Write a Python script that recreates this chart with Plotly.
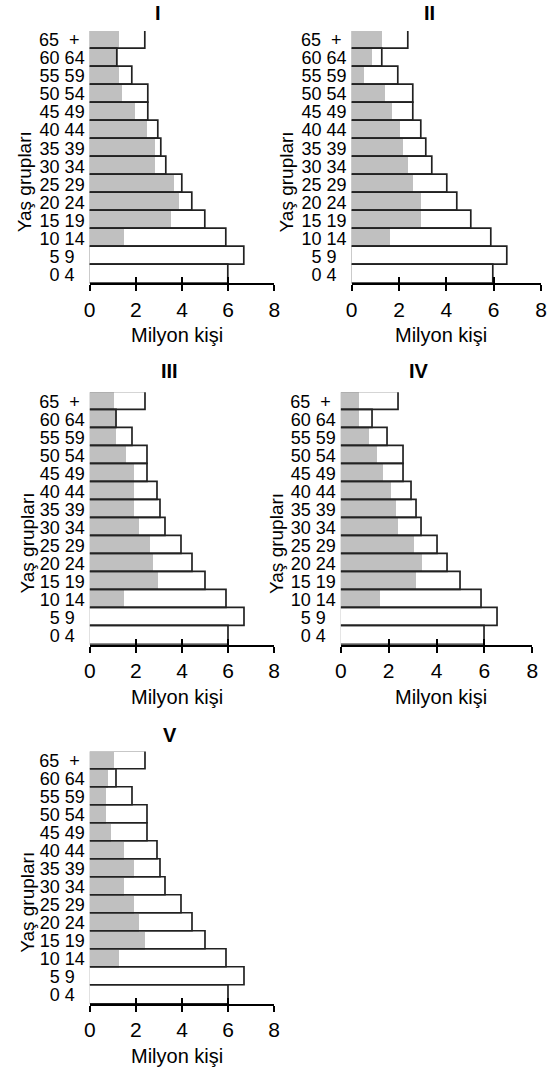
import plotly.graph_objects as go

W, H = 553, 1074

# Age group tick labels, top to bottom
age_labels = ["65\u00a0\u00a0+\u00a0", "60 64", "55 59", "50 54", "45 49", "40 44", "35 39",
              "30 34", "25 29", "20 24", "15 19", "10 14", "5 9\u00a0\u00a0", "0 4\u00a0\u00a0"]

totals_I = [2.44, 1.20, 1.87, 2.54, 2.54, 2.99, 3.11, 3.34, 4.01, 4.46, 5.04, 5.93, 6.72, 6.04]
gray_I = [1.27, 1.20, 1.27, 1.38, 1.94, 2.49, 2.83, 2.83, 3.63, 3.85, 3.51, 1.48, 0, 0]
totals_II = [2.41, 1.32, 1.97, 2.63, 2.63, 2.96, 3.18, 3.41, 4.05, 4.49, 5.05, 5.92, 6.58, 6.00]
gray_II = [1.25, 0.85, 0.52, 1.38, 1.71, 2.04, 2.16, 2.37, 2.58, 2.90, 2.90, 1.59, 0, 0]
totals_III = [2.42, 1.17, 1.85, 2.52, 2.52, 2.97, 3.10, 3.32, 4.00, 4.46, 5.04, 5.93, 6.72, 6.04]
gray_III = [1.03, 1.17, 1.12, 1.57, 1.92, 1.92, 1.92, 2.14, 2.60, 2.73, 2.94, 1.46, 0, 0]
totals_IV = [2.41, 1.32, 1.98, 2.62, 2.62, 2.95, 3.18, 3.40, 4.05, 4.49, 5.03, 5.91, 6.58, 6.00]
gray_IV = [0.76, 0.76, 1.17, 1.50, 1.75, 2.07, 2.28, 2.40, 3.06, 3.38, 3.14, 1.62, 0, 0]
totals_V = [2.42, 1.17, 1.85, 2.52, 2.52, 2.97, 3.10, 3.32, 4.00, 4.46, 5.04, 5.93, 6.72, 6.04]
gray_V = [1.03, 0.78, 0.68, 0.68, 0.90, 1.46, 1.92, 1.46, 1.92, 2.14, 2.39, 1.24, 0, 0]

panel_titles = ["I", "II", "III", "IV", "V"]
x_ticks = [0, 2, 4, 6, 8]
x_title = "Milyon kişi"
y_title = "Yaş grupları"

panels = [
    # (totals, gray, x0 px, px per unit, y top px, y axis px, title x, title y, ytitle x)
    (totals_I, gray_I, 85.5, 23.6, 30, 283, 155, 12.5, 19),
    (totals_II, gray_II, 353.3, 24.2, 30, 283, 433, 12.5, 287),
    (totals_III, gray_III, 85.7, 23.55, 392, 645, 167, 371, 22),
    (totals_IV, gray_IV, 342.3, 24.45, 392, 645, 422, 371, 277),
    (totals_V, gray_V, 85.7, 23.55, 752, 1005, 168, 735, 22),
]

FONT = "Liberation Sans, Arial, Helvetica, sans-serif"


def px(x):
    return x / W


def py(y):
    return 1 - y / H


fig = go.Figure()
annotations = []
cat_order = list(reversed(age_labels))

for i, (tot, gr, x0, ppu, ytop, yax, tx, ty, ytx) in enumerate(panels):
    k = i + 1
    xa = "x" if k == 1 else f"x{k}"
    ya = "y" if k == 1 else f"y{k}"
    kk = k + 5
    fig.add_trace(go.Bar(
        y=age_labels, x=gr, orientation="h", xaxis=xa, yaxis=ya,
        marker=dict(color="#c0c0c0", line=dict(width=0)), showlegend=False,
        hoverinfo="skip"))
    fig.add_trace(go.Bar(
        y=age_labels, x=tot, orientation="h", xaxis=xa, yaxis=ya,
        marker=dict(color="rgba(0,0,0,0)", line=dict(color="#222222", width=1.7)),
        showlegend=False, hoverinfo="skip"))
    # invisible copy on the overlay axis that draws the inner half of the ticks
    fig.add_trace(go.Bar(
        y=age_labels, x=tot, orientation="h", xaxis=f"x{kk}", yaxis=ya,
        marker=dict(color="rgba(0,0,0,0)", line=dict(width=0)),
        showlegend=False, hoverinfo="skip"))

    xdom = [px(x0), px(x0 + 8 * ppu)]
    ydom = [py(yax), py(ytop)]
    fig.layout[f"xaxis{'' if k == 1 else k}"] = dict(
        domain=xdom, range=[0, 8], tickvals=x_ticks, ticks="outside", ticklen=6,
        tickwidth=2, tickcolor="black", showline=True, linewidth=2, linecolor="black",
        showgrid=False, zeroline=False, anchor=ya, fixedrange=True,
        tickfont=dict(size=21, color="black", family=FONT))
    fig.layout[f"xaxis{kk}"] = dict(
        overlaying=xa, anchor=ya, side="bottom", range=[0, 8],
        tickvals=x_ticks, ticks="inside", ticklen=6, tickwidth=2, tickcolor="black",
        showticklabels=False, showline=False, showgrid=False, zeroline=False,
        fixedrange=True)
    fig.layout[f"yaxis{'' if k == 1 else k}"] = dict(
        domain=ydom, type="category", categoryorder="array", categoryarray=cat_order,
        tickmode="array", tickvals=age_labels, ticktext=age_labels,
        range=[-0.5, 13.5], showline=False, showgrid=False, zeroline=False, ticks="",
        anchor=xa, fixedrange=True, ticklabelstandoff=4,
        tickfont=dict(size=18, color="black", family=FONT))

    # panel title
    annotations.append(dict(text=f"<b>{panel_titles[i]}</b>", x=px(tx), y=py(ty),
                            xref="paper", yref="paper", showarrow=False, xanchor="center",
                            yanchor="middle", font=dict(size=20, color="black", family=FONT)))
    # x title
    xt_center = 175 if k in (1, 3, 5) else 445
    annotations.append(dict(text=x_title, x=px(xt_center), y=py(yax + 52), xref="paper",
                            yref="paper", showarrow=False, xanchor="center", yanchor="middle",
                            font=dict(size=20, color="black", family=FONT)))
    # y title
    annotations.append(dict(text=y_title, x=px(ytx), y=py(yax - 102), xref="paper",
                            yref="paper", showarrow=False, xanchor="center", yanchor="middle",
                            textangle=-90, font=dict(size=19, color="black", family=FONT)))

fig.update_layout(
    width=W, height=H, margin=dict(l=0, r=0, t=0, b=0),
    paper_bgcolor="white", plot_bgcolor="white",
    barmode="overlay", bargap=0,
    annotations=annotations,
    font=dict(family=FONT, color="black"),
)

fig.write_html("out.html", config={"displayModeBar": False},
               post_script="document.body.style.margin='0';document.body.style.overflow='hidden';")
